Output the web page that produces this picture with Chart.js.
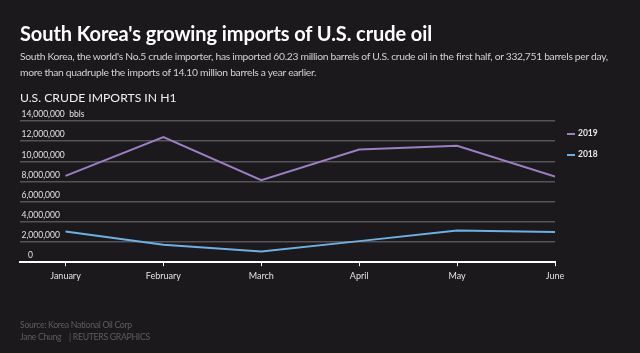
<!DOCTYPE html>
<html>
<head>
<meta charset="utf-8">
<script src="https://cdn.jsdelivr.net/npm/chart.js@4"></script>
<style>
  html, body { margin: 0; padding: 0; background: #1b191c; }
  body { width: 640px; height: 353px; position: relative; overflow: hidden; font-family: Lato, sans-serif; }
  #chart { position: absolute; left: 0; top: 0; }
  .title { position: absolute; left: 20px; top: 21px; color: #fff; font-size: 20px; font-weight: 700; letter-spacing: -0.1px; line-height: 24px; }
  .dek { position: absolute; left: 20px; top: 48px; width: 596px; color: #d2d2d2; font-size: 10.3px; line-height: 16px; letter-spacing: -0.3px; }
  .sub { position: absolute; left: 20px; top: 91px; color: #f0f0f0; font-size: 12.2px; line-height: 14px; }
  .legend { position: absolute; left: 567px; color: #e8e8e8; font-size: 8.5px; font-weight: 700; line-height: 10px; }
  .legend i { display: inline-block; width: 8px; height: 2px; margin-right: 3px; vertical-align: middle; }
  .foot { position: absolute; left: 20px; color: #5e5c60; font-size: 8.7px; letter-spacing: -0.3px; line-height: 10px; }
</style>
</head>
<body>
<canvas id="chart" width="640" height="353"></canvas>
<div class="title">South Korea's growing imports of U.S. crude oil</div>
<div class="dek">South Korea, the world's No.5 crude importer, has imported 60.23 million barrels of U.S. crude oil in the first half, or 332,751 barrels per day, more than quadruple the imports of 14.10 million barrels a year earlier.</div>
<div class="sub">U.S. CRUDE IMPORTS IN H1</div>
<div id="legend"></div>
<div class="foot" style="top:320px">Source: Korea National Oil Corp</div>
<div class="foot" style="top:332px">Jane Chung &nbsp;&nbsp; | REUTERS GRAPHICS</div>
<script>
// ── Data ──
const MONTHS = ['January', 'February', 'March', 'April', 'May', 'June'];
const IMPORTS_2019 = [8560000, 12410000, 8130000, 11180000, 11540000, 8500000];
const IMPORTS_2018 = [3050000, 1730000, 1060000, 2090000, 3150000, 2990000];
const Y_TICKS = [0, 2000000, 4000000, 6000000, 8000000, 10000000, 12000000, 14000000];

const FONT = 'Lato, sans-serif';
const COLORS = {
  y2019: '#9d7ec6',
  y2018: '#6db0e4',
  grid:  '#555357',
  axis:  '#ffffff',
  text:  '#e2e2e2'
};

Chart.defaults.font.family = FONT;
Chart.defaults.font.size = 9;
Chart.defaults.color = COLORS.text;

const series = [
  { label: '2019', data: IMPORTS_2019, color: COLORS.y2019 },
  { label: '2018', data: IMPORTS_2018, color: COLORS.y2018 }
];

// legend (html)
document.getElementById('legend').innerHTML = series.map((s, i) =>
  `<div class="legend" style="top:${128 + i * 21}px"><i style="background:${s.color}"></i>${s.label}</div>`
).join('');

// y labels sit just above their gridline, left aligned
const yLabels = {
  id: 'yLabels',
  afterDraw(chart) {
    const { ctx, scales: { y }, chartArea } = chart;
    ctx.save();
    ctx.font = '8.5px ' + FONT;
    ctx.fillStyle = COLORS.text;
    ctx.textAlign = 'left';
    ctx.textBaseline = 'middle';
    Y_TICKS.forEach(v => {
      const txt = v.toLocaleString('en-US');
      const ty = y.getPixelForValue(v) - 6.5;
      const tx = v === 0 ? chartArea.left + 8 : chartArea.left + 1.5;
      ctx.fillText(txt, tx, ty);
      if (v === 14000000) ctx.fillText('bbls', tx + ctx.measureText(txt).width + 4.5, ty);
    });
    ctx.restore();
  }
};

new Chart(document.getElementById('chart'), {
  type: 'line',
  data: {
    datasets: series.map(s => ({
      label: s.label,
      data: s.data.map((v, i) => ({ x: i, y: v })),
      borderColor: s.color,
      borderWidth: 2,
      pointRadius: 0,
      tension: 0,
      fill: false
    }))
  },
  options: {
    responsive: false,
    animation: false,
    layout: { padding: { left: 20, right: 85, top: 121, bottom: 68 } },
    plugins: { legend: { display: false }, tooltip: { enabled: false } },
    scales: {
      x: {
        type: 'linear',
        min: -0.465,
        max: 5,
        afterBuildTicks: scale => { scale.ticks = MONTHS.map((m, i) => ({ value: i })); },
        ticks: { callback: v => MONTHS[v], padding: 4, font: { size: 9 }, maxRotation: 0 },
        grid: { drawOnChartArea: false, drawTicks: true, tickLength: 4, color: COLORS.axis, lineWidth: 1 },
        border: { color: COLORS.axis, width: 2 }
      },
      y: {
        min: 0,
        max: 14000000,
        afterBuildTicks: scale => { scale.ticks = Y_TICKS.map(v => ({ value: v })); },
        ticks: { display: false },
        grid: { color: COLORS.grid, lineWidth: 1.5, drawTicks: false },
        border: { display: false }
      }
    }
  },
  plugins: [yLabels]
});
</script>
</body>
</html>
